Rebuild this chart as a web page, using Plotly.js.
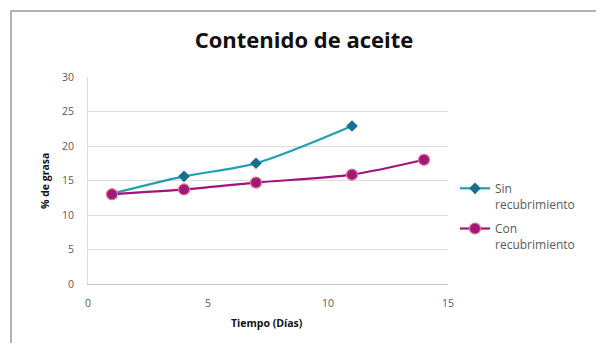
<!DOCTYPE html>
<html>
<head>
<meta charset="utf-8">
<script src="https://cdn.plot.ly/plotly-3.0.1.min.js"></script>
<style>
  html, body { margin: 0; padding: 0; background: #ffffff; }
  #chart { width: 596px; height: 343px; }
</style>
</head>
<body>
<div id="chart"></div>
<script>
// Oil content over storage time, with and without coating
const dias = [1, 4, 7, 11, 14];
const diasSin = [1, 4, 7, 11];
const sinRecubrimiento = [13.1, 15.6, 17.5, 22.9];
const conRecubrimiento = [13.0, 13.7, 14.7, 15.85, 18.0];
const nombres = ['Sin<br>recubrimiento', 'Con<br>recubrimiento'];
const xTicks = [0, 5, 10, 15];
const yTicks = [0, 5, 10, 15, 20, 25, 30];

const fuente = 'Open Sans, Liberation Sans, sans-serif';

// plot area in pixels: left 88, right 448, top 77, bottom 284
const W = 596, H = 343, L = 88, R = 448, T = 77, B = 284;
const px = v => (v - L) / (R - L);
const py = v => (B - v) / (B - T);

const traces = [
  {
    x: diasSin, y: sinRecubrimiento, name: nombres[0], legendgroup: 'sin',
    type: 'scatter', mode: 'lines+markers',
    line: { color: '#1fa0b4', width: 2.2, shape: 'spline', smoothing: 0.8 },
    marker: { symbol: 'diamond', size: 9, color: '#1b6f8c' }
  },
  {
    x: dias, y: conRecubrimiento, name: nombres[1], legendgroup: 'con',
    type: 'scatter', mode: 'lines+markers',
    line: { color: '#a3137c', width: 2.2, shape: 'spline', smoothing: 0.8 },
    marker: { symbol: 'circle', size: 11, color: '#9c1a78',
              line: { color: '#f0708a', width: 1.2 } }
  }
];

const layout = {
  width: W, height: H,
  paper_bgcolor: '#ffffff', plot_bgcolor: '#ffffff',
  margin: { l: L, r: W - R, t: T, b: H - B },
  title: {
    text: '<b>Contenido de aceite</b>',
    font: { family: fuente, size: 22, color: '#111111' },
    x: 304 / W, xanchor: 'center', y: 1 - 40 / H, yanchor: 'middle'
  },
  xaxis: {
    range: [0, 15], tickvals: xTicks, ticktext: xTicks.map(String),
    showgrid: false, zeroline: false,
    showline: true, linecolor: '#c4c4c4', linewidth: 1.2,
    ticks: '', ticklabelstandoff: 9,
    tickfont: { family: fuente, size: 10.5, color: '#5a5a5a' }
  },
  yaxis: {
    range: [0, 30], tickvals: yTicks, ticktext: yTicks.map(String),
    showgrid: true, gridcolor: '#dcdcdc', gridwidth: 1,
    zeroline: false, showline: true, linecolor: '#dcdcdc',
    ticks: '', ticklabelstandoff: 11,
    tickfont: { family: fuente, size: 10.5, color: '#5a5a5a' }
  },
  annotations: [
    { text: '<b>Tiempo (Días)</b>', xref: 'paper', yref: 'paper',
      x: px(267), y: py(323), xanchor: 'center', yanchor: 'middle', showarrow: false,
      font: { family: fuente, size: 10.5, color: '#111111' } },
    { text: '<b>% de grasa</b>', xref: 'paper', yref: 'paper', textangle: -90,
      x: px(45), y: py(181), xanchor: 'center', yanchor: 'middle', showarrow: false,
      font: { family: fuente, size: 10.5, color: '#111111' } }
  ],
  legend: {
    x: px(455), xanchor: 'left', y: py(174), yanchor: 'top',
    xref: 'paper', yref: 'paper',
    font: { family: fuente, size: 12, color: '#5a5a5a' },
    valign: 'top', tracegroupgap: 6, itemwidth: 30,
    bgcolor: 'rgba(0,0,0,0)'
  },
  shapes: [
    // outer chart frame
    { type: 'rect', xref: 'paper', yref: 'paper',
      x0: px(11), x1: px(620), y0: py(360), y1: py(11),
      line: { color: '#9a9a9a', width: 1.5 }, fillcolor: 'rgba(0,0,0,0)', layer: 'below' }
  ],
  showlegend: true
};

Plotly.newPlot('chart', traces, layout, { displayModeBar: false, staticPlot: true });
</script>
</body>
</html>
